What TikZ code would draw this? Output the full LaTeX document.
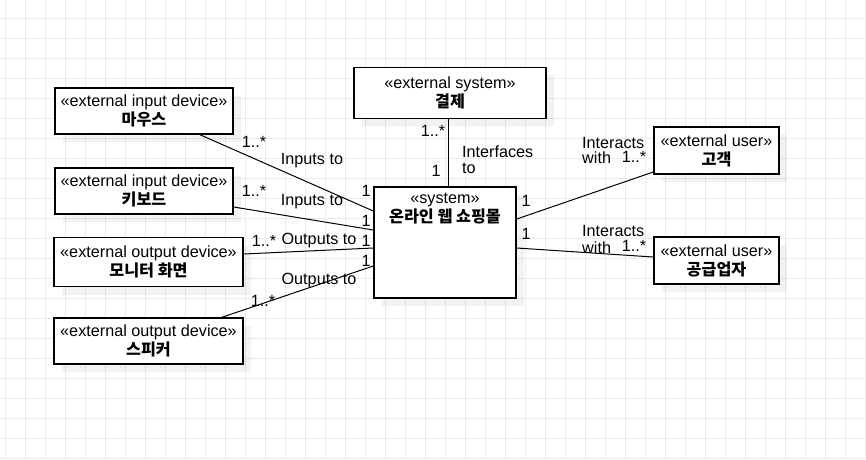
\documentclass[tikz,border=0pt]{standalone}
\usepackage{fontspec}
\setmainfont{Liberation Sans}
\newfontfamily\cjk{Noto Sans CJK KR}
\newcommand{\gridcol}{black!8}
\usetikzlibrary{shadows}

\begin{document}
\begin{tikzpicture}[x=1pt, y=-1pt, font=\fontsize{16.2}{19}\selectfont,
    umlbox/.style={draw=black, line width=1.5pt, fill=white, align=center, inner sep=0pt,
      drop shadow={shadow xshift=8pt, shadow yshift=-8pt, fill=black, opacity=0.05}},
    assoc/.style={draw=black, line width=1pt},
    mult/.style={inner sep=0pt},
    role/.style={inner sep=0pt, anchor=base west}]

    \useasboundingbox[fill=white] (0,0) rectangle (866,459);

    % background grid
    \foreach \gx in {5.3,25.3,...,866} \draw[draw=\gridcol] (\gx,0) -- (\gx,459);
    \foreach \gy in {18.3,38.3,...,459} \draw[draw=\gridcol] (0,\gy) -- (866,\gy);

    % boxes
    \node[umlbox, minimum width=178pt, minimum height=46pt] (mouse) at (144,111)
        {«external input device»\\{\cjk\bfseries 마우스}};
    \node[umlbox, minimum width=178pt, minimum height=46pt] (keyboard) at (144,191)
        {«external input device»\\{\cjk\bfseries 키보드}};
    \node[umlbox, minimum width=189pt, minimum height=49pt] (monitor) at (148.5,262)
        {«external output device»\\{\cjk\bfseries 모니터 화면}};
    \node[umlbox, minimum width=189pt, minimum height=46pt] (speaker) at (148.5,341)
        {«external output device»\\{\cjk\bfseries 스피커}};
    \node[umlbox, minimum width=192pt, minimum height=51pt] (payment) at (450,92.8)
        {«external system»\\{\cjk\bfseries 결제}};
    \node[umlbox, minimum width=142pt, minimum height=111pt] (sys) at (445,242.5) {};
    \node[inner sep=0pt, align=center] (syslabel) at ([yshift=-22.5pt]sys.north)
        {«system»\\{\cjk\bfseries 온라인 웹 쇼핑몰}};
    \node[umlbox, minimum width=125pt, minimum height=47pt] (customer) at (716.5,150.5)
        {«external user»\\{\cjk\bfseries 고객}};
    \node[umlbox, minimum width=125pt, minimum height=47pt] (supplier) at (716.5,260.5)
        {«external user»\\{\cjk\bfseries 공급업자}};

    % associations
    \draw[assoc] ([xshift=56pt]mouse.south) -- ([yshift=31.5pt]sys.west);
    \draw[assoc] ([yshift=-16pt]keyboard.east) -- ([yshift=12.5pt]sys.west);
    \draw[assoc] ([yshift=8pt]monitor.east) -- ([yshift=-5.5pt]sys.west);
    \draw[assoc] ([xshift=73.5pt]speaker.north) -- ([yshift=-23.5pt]sys.west);
    \draw[assoc] ([xshift=-2pt]payment.south) -- ([xshift=3pt]sys.north);
    \draw[assoc] ([yshift=23.5pt]sys.east) -- ([yshift=-21.5pt]customer.west);
    \draw[assoc] ([yshift=-5.5pt]sys.east) -- ([yshift=3.5pt]supplier.west);

    % multiplicities and roles
    \node[mult] (mouseM) at (254,142) {1..*};
    \node[mult] (mouseR) at (312,161) {Inputs to};
    \node[mult] (mouseS) at (366,191) {1};

    \node[mult] (keyM) at (254,191) {1..*};
    \node[mult] (keyR) at (312,202) {Inputs to};
    \node[mult] (keyS) at (366,221) {1};

    \node[mult] (monM) at (264,241) {1..*};
    \node[mult] (monR) at (319,241) {Outputs to};
    \node[mult] (monS) at (366,241) {1};

    \node[mult] (spkS) at (366,261) {1};
    \node[mult] (spkR) at (319,281) {Outputs to};
    \node[mult] (spkM) at (263,301) {1..*};

    \node[mult] (payM) at (433,131) {1..*};
    \node[role] (payR) at (462,157.5) {Interfaces};
    \node[role] (payR2) at (462,173) {to};
    \node[mult] (payS) at (436,171) {1};

    \node[mult] (custS) at (526,201) {1};
    \node[role] (custR) at (582,148) {Interacts};
    \node[role] (custR2) at (582,163) {with};
    \node[mult] (custM) at (634,157) {1..*};

    \node[mult] (supS) at (526,234) {1};
    \node[role] (supR) at (582,236.5) {Interacts};
    \node[role] (supR2) at (582,253) {with};
    \node[mult] (supM) at (634,246) {1..*};
\end{tikzpicture}
\end{document}
